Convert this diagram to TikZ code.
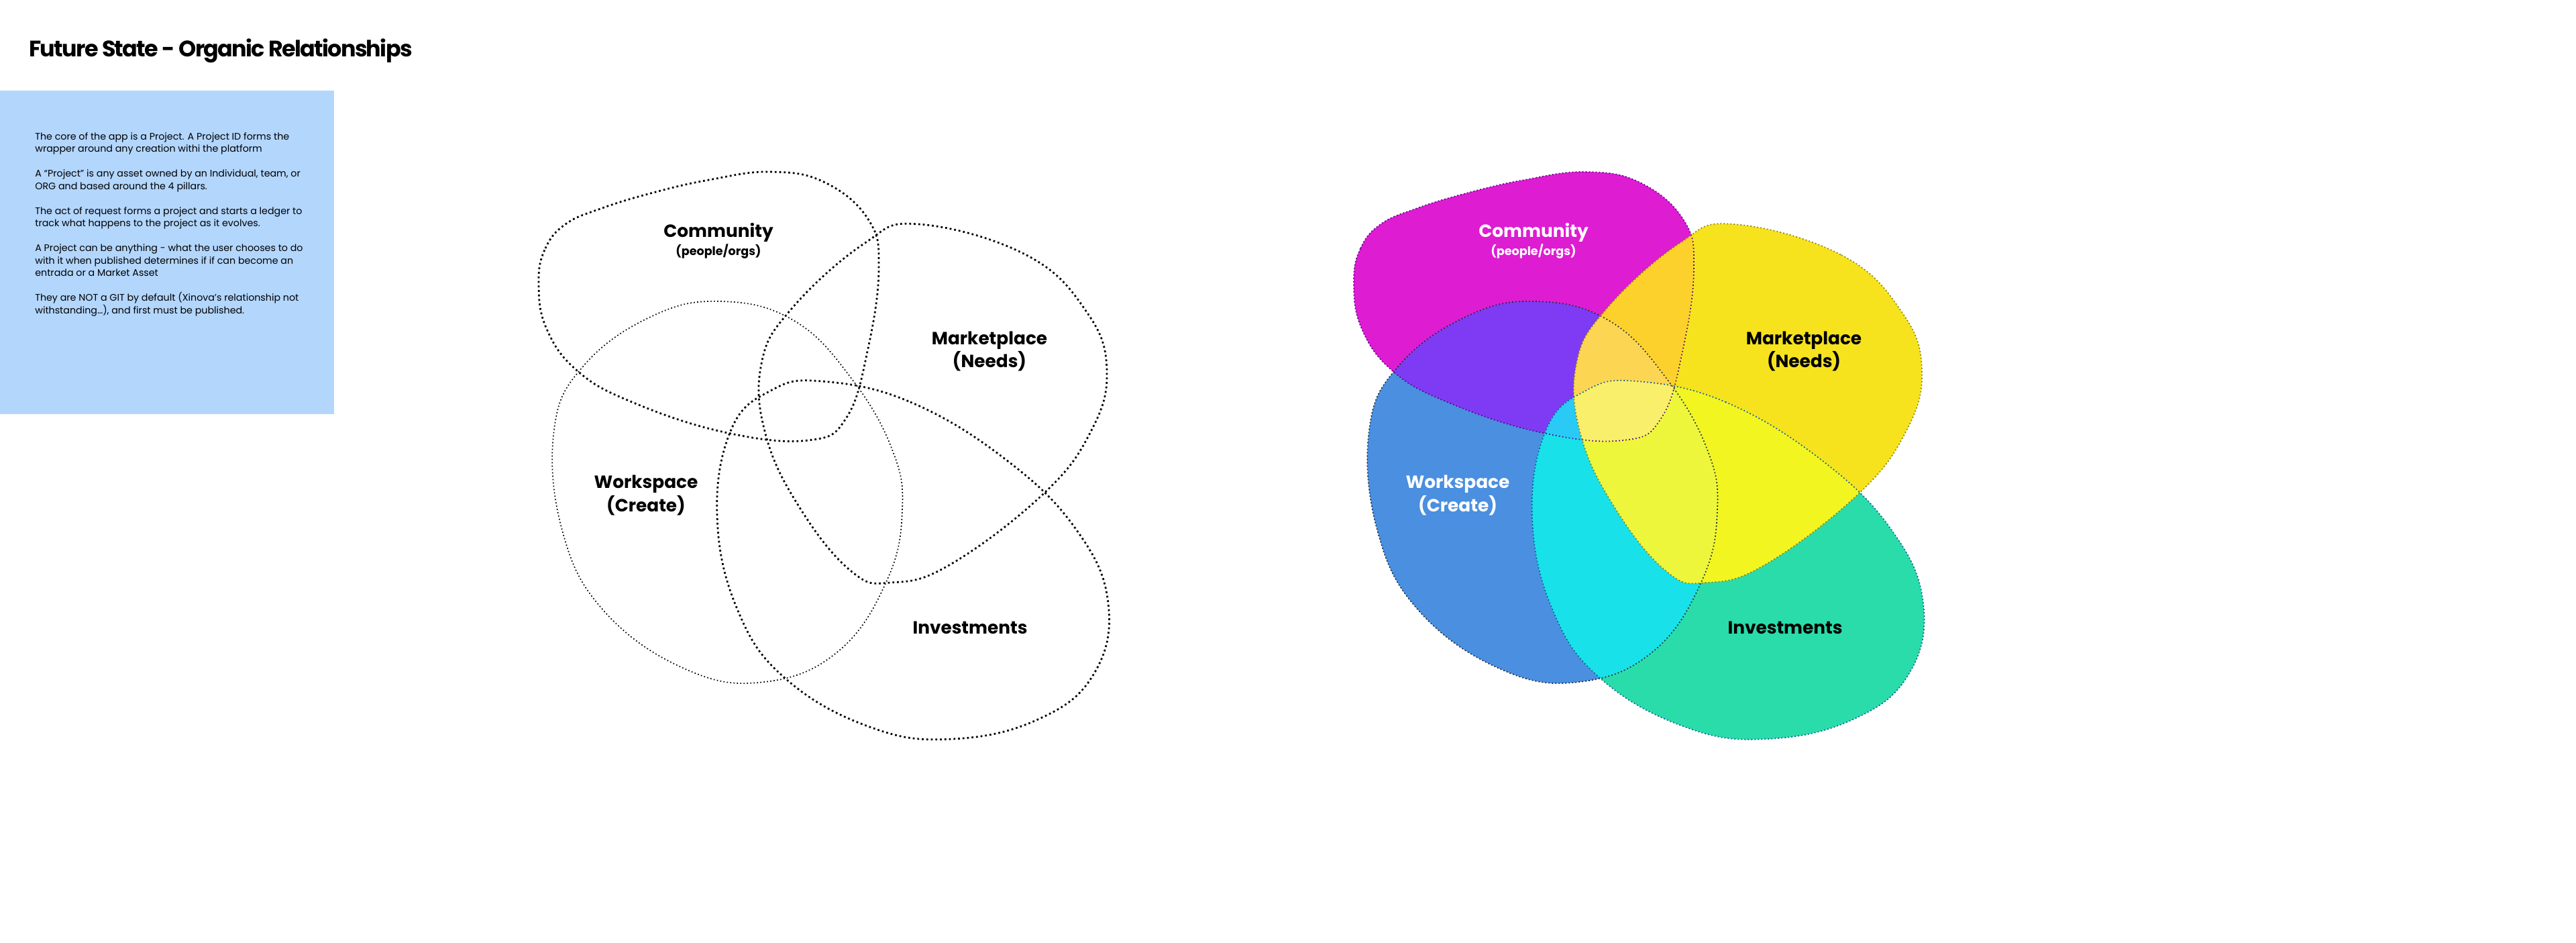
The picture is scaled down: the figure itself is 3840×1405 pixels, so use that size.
\documentclass[tikz,border=0pt]{standalone}
\usepackage{fontspec}
\setmainfont{Poppins}
\usepackage{tikz}
\usetikzlibrary{positioning}

\definecolor{notebg}{HTML}{B3D6FD}
\definecolor{commcol}{HTML}{DE1CD2}
\definecolor{markcol}{HTML}{F6E31E}
\definecolor{workcol}{HTML}{4A8FE0}
\definecolor{invcol}{HTML}{2ADCAA}
\definecolor{cwcol}{HTML}{7F3AF4}
\definecolor{cmcol}{HTML}{FDD12C}
\definecolor{micol}{HTML}{F3F521}
\definecolor{wicol}{HTML}{18E1E9}
\definecolor{cmwcol}{HTML}{FCD653}
\definecolor{cwicol}{HTML}{2ACAF6}
\definecolor{mwicol}{HTML}{EEF63C}
\definecolor{allcol}{HTML}{F9EF6A}

% the four pillar outlines, in pixel units
\newcommand\commblob{plot[smooth cycle, tension=0.7] coordinates {(803,420) (813,370) (843,334) (895,311) (970,288) (1057,268) (1149,256) (1230,272) (1295,328) (1310,400) (1294,519) (1262,622) (1205,656) (1080,644) (942,599) (860,552) (814,488)}}
\newcommand\markblob{plot[smooth cycle, tension=0.7] coordinates {(1369,334) (1530,380) (1620,465) (1650,553) (1625,645) (1553,738) (1415,842) (1328,868) (1270,852) (1195,761) (1142,650) (1135,542) (1180,460) (1288,363)}}
\newcommand\workblob{plot[smooth cycle, tension=0.7] coordinates {(1074,449) (1184,478) (1270,565) (1330,670) (1345,760) (1322,865) (1250,970) (1140,1016) (1022,997) (900,910) (838,790) (826,640) (870,545) (970,472)}}
\newcommand\invblob{plot[smooth cycle, tension=0.7] coordinates {(1224,568) (1357,599) (1501,686) (1605,790) (1652,899) (1630,1005) (1547,1072) (1420,1101) (1299,1084) (1172,1012) (1100,910) (1069,770) (1090,640) (1149,582)}}

\begin{document}
\begin{tikzpicture}[
    x=0.2mm, y=-0.2mm,
    thickdots/.style={line width=0.55mm, dash pattern=on 0.55mm off 0.8mm},
    thindots/.style={line width=0.34mm, dash pattern=on 0.34mm off 0.66mm},
    pillar/.style={anchor=base, inner sep=0pt, font=\fontsize{15}{18}\selectfont\bfseries},
    pillarsub/.style={anchor=base, inner sep=0pt, font=\fontsize{10}{12}\selectfont\bfseries},
    notes/.style={anchor=north west, inner sep=0pt, align=left, font=\fontsize{8.1}{10.53}\selectfont}
]
\useasboundingbox[fill=white] (0,0) rectangle (3840,1405);

% heading and notes
\node[anchor=base west, inner sep=0pt, font=\fontsize{19}{22}\selectfont\bfseries\addfontfeature{LetterSpace=-5}] (title) at (43,85) {Future State - Organic Relationships};
\fill[notebg] (0,135) rectangle (498,617);
\node[notes] (notes) at (52,197) {%
The core of the app is a Project. A Project ID forms the\\
wrapper around any creation withi the platform\\[10.53pt]
A “Project” is any asset owned by an Individual, team, or\\
ORG and based around the 4 pillars.\\[10.53pt]
The act of request forms a project and starts a ledger to\\
track what happens to the project as it evolves.\\[10.53pt]
A Project can be anything - what the user chooses to do\\
with it when published determines if if can become an\\
entrada or a Market Asset\\[10.53pt]
They are NOT a GIT by default (Xinova’s relationship not\\
withstanding…), and first must be published.};

% left: outlines only
\draw[thindots] \workblob;
\draw[thickdots] \commblob;
\draw[thickdots] \markblob;
\draw[thickdots] \invblob;

\node[pillar] (commL) at (1071,354) {Community};
\node[pillarsub] (commsubL) at (1071,381) {(people/orgs)};
\node[pillar] (markL) at (1475,513) {Marketplace};
\node[pillar] (marksubL) at (1475,547) {(Needs)};
\node[pillar] (workL) at (963,727) {Workspace};
\node[pillar] (worksubL) at (963,762) {(Create)};
\node[pillar] (invL) at (1446,944) {Investments};

% right: filled, overlaps coloured
\begin{scope}[shift={(1215,0)}]
  \fill[commcol] \commblob;
  \fill[markcol] \markblob;
  \fill[workcol] \workblob;
  \fill[invcol] \invblob;
  % pairs
  \begin{scope} \clip \commblob; \fill[cwcol] \workblob; \end{scope}
  \begin{scope} \clip \commblob; \fill[cmcol] \markblob; \end{scope}
  \begin{scope} \clip \commblob; \fill[cwicol] \invblob; \end{scope}
  \begin{scope} \clip \markblob; \fill[cmwcol] \workblob; \end{scope}
  \begin{scope} \clip \markblob; \fill[micol] \invblob; \end{scope}
  \begin{scope} \clip \workblob; \fill[wicol] \invblob; \end{scope}
  % triples
  \begin{scope} \clip \commblob; \clip \markblob; \fill[cmwcol] \workblob; \end{scope}
  \begin{scope} \clip \commblob; \clip \workblob; \fill[cwicol] \invblob; \end{scope}
  \begin{scope} \clip \markblob; \clip \workblob; \fill[mwicol] \invblob; \end{scope}
  \begin{scope} \clip \commblob; \clip \markblob; \fill[allcol] \invblob; \end{scope}
  % all four
  \begin{scope} \clip \commblob; \clip \markblob; \clip \workblob; \fill[allcol] \invblob; \end{scope}
  % outlines
  \draw[thindots, black!85] \workblob;
  \draw[thindots, black!55!commcol!80!blue] \commblob;
  \draw[thindots, black!45!markcol] \markblob;
  \draw[thindots, black!45!blue!60!invcol] \invblob;
\end{scope}

\node[pillar, white] (commR) at (2286,354) {Community};
\node[pillarsub, white] (commsubR) at (2286,381) {(people/orgs)};
\node[pillar] (markR) at (2689,513) {Marketplace};
\node[pillar] (marksubR) at (2689,547) {(Needs)};
\node[pillar, white] (workR) at (2173,727) {Workspace};
\node[pillar, white] (worksubR) at (2173,762) {(Create)};
\node[pillar] (invR) at (2661,944) {Investments};

\end{tikzpicture}
\end{document}
